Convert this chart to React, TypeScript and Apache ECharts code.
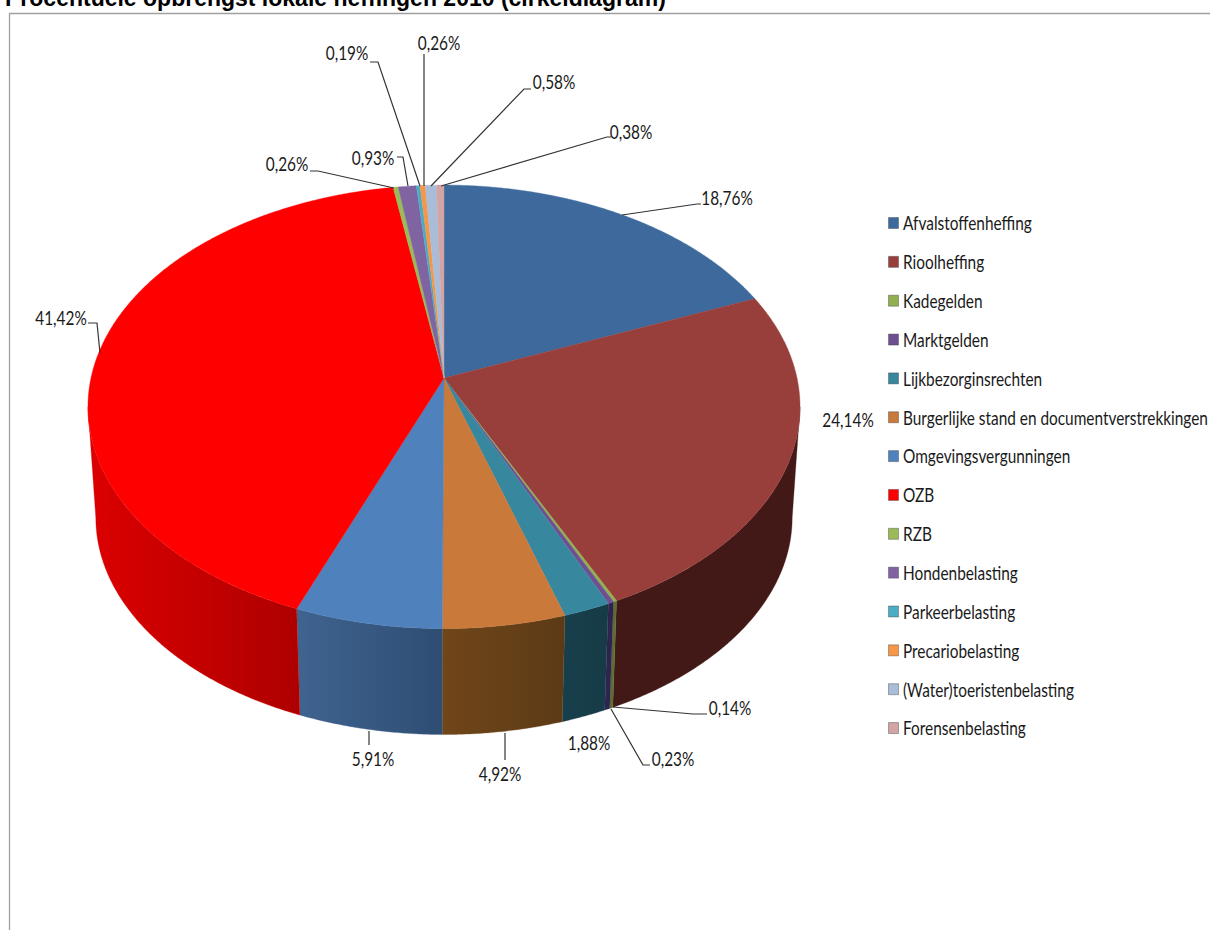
import React, { useEffect, useRef } from "react";
import * as echarts from "echarts";

const categories = [
  "Afvalstoffenheffing", "Rioolheffing", "Kadegelden", "Marktgelden", "Lijkbezorginsrechten",
  "Burgerlijke stand en documentverstrekkingen", "Omgevingsvergunningen", "OZB", "RZB",
  "Hondenbelasting", "Parkeerbelasting", "Precariobelasting", "(Water)toeristenbelasting", "Forensenbelasting",
];
const shares = [18.76, 24.14, 0.14, 0.23, 1.88, 4.92, 5.91, 41.42, 0.26, 0.93, 0.19, 0.26, 0.58, 0.38];
const shareLabels = ["18,76%", "24,14%", "0,14%", "0,23%", "1,88%", "4,92%", "5,91%", "41,42%", "0,26%", "0,93%", "0,19%", "0,26%", "0,58%", "0,38%"];

const topColors = ["#3e699d", "#983f3c", "#90b050", "#6f4f92", "#37889f", "#c9793a", "#4f81bd", "#ff0000", "#9bbb59", "#8064a2", "#4bacc6", "#f79646", "#a9bdd9", "#d3a4a4"];
const wallColors: [string, string][] = [
  ["#2c4a70", "#2c4a70"], ["#421916", "#421916"], ["#5c6e30", "#5c6e30"], ["#2f2350", "#2f2350"],
  ["#173f4b", "#163b47"], ["#704619", "#5c3a16"], ["#3f6490", "#2e4d73"], ["#dc0000", "#ae0000"],
  ["#5c6e30", "#5c6e30"], ["#3f3060", "#3f3060"], ["#1f5a6a", "#1f5a6a"], ["#8a5020", "#8a5020"],
  ["#5a6a80", "#5a6a80"], ["#7a5a5a", "#7a5a5a"],
];
// label centre, then leader polyline, per slice
const labelCentres: [number, number][] = [
  [727, 197], [848, 419], [730, 707], [673, 758], [589, 742], [500, 773], [373, 758],
  [61, 317], [287, 163], [373, 157], [347, 52], [439, 42], [554, 81], [631, 131],
];
const leaderLines: [number, number][][] = [
  [[622, 215], [697, 204], [701, 204]], [],
  [[613, 707], [693, 714], [707, 714]], [[611, 709], [643, 765], [650, 765]], [],
  [[505, 733], [505, 760]], [[369, 731], [369, 745]],
  [[100, 353], [97, 323], [88, 323]], [[394, 188], [318, 171], [310, 171]],
  [[408, 186], [403, 157], [397, 157]], [[420, 186], [378, 62], [370, 62]],
  [[424, 186], [424, 54]], [[431, 186], [524, 89], [531, 89]], [[441, 186], [607, 137], [611, 137]],
];

const FONT = "Lato, 'Liberation Sans', sans-serif";
const TEXT_SIZE = 20, TEXT_SQUEEZE = 0.77;
const CX = 444, CY = 378, K = 353, M = 218, P = 0.13;
const WALL_SCALE = 0.978, WALL_SHIFT = 119.8;
const WALL_LEFT = Math.acos(-P), WALL_RIGHT = 2 * Math.PI - Math.acos(-P);
const LEGEND_X = 888, LEGEND_Y = 222.5, LEGEND_STEP = 38.85;

const rim = (t: number): [number, number] => {
  const d = 1 + P * Math.cos(t);
  return [CX + (K * Math.sin(t)) / d, CY - (M * Math.cos(t)) / d];
};
const floor = ([x, y]: [number, number]): [number, number] => [CX + (x - CX) * WALL_SCALE, y * WALL_SCALE + WALL_SHIFT];
const total = shares.reduce((a, b) => a + b, 0);
const sweep = (i: number): [number, number] => {
  const before = shares.slice(0, i).reduce((a, b) => a + b, 0);
  return [(before / total) * 2 * Math.PI, ((before + shares[i]) / total) * 2 * Math.PI];
};
const arc = (a: number, b: number) => {
  const n = Math.max(2, Math.ceil((b - a) / 0.006));
  return Array.from({ length: n + 1 }, (_, j) => rim(a + ((b - a) * j) / n));
};

export default function App() {
  const ref = useRef<HTMLDivElement>(null);
  useEffect(() => {
    const chart = echarts.init(ref.current!, undefined, { renderer: "svg" });
    const base = { type: "custom", coordinateSystem: "none", silent: true, data: shares };
    const topSeries = {
      ...base, name: "taart", z: 3,
      renderItem: (params: any) => {
        const i = params.dataIndex;
        const [a, b] = sweep(i);
        return {
          type: "polygon",
          shape: { points: [[CX, CY], ...arc(a, b)] },
          style: { fill: topColors[i], stroke: topColors[i], lineWidth: 0.4 },
        };
      },
    };
    const wallSeries = {
      ...base, name: "wanden", z: 2,
      renderItem: (params: any) => {
        const i = params.dataIndex;
        const [s, e] = sweep(i);
        const a = Math.max(s, WALL_LEFT), b = Math.min(e, WALL_RIGHT);
        if (b <= a) return { type: "group", children: [] };
        const upper = arc(a, b);
        const lower = upper.map(floor).reverse();
        const xs = upper.map((p) => p[0]);
        const x0 = Math.min(...xs), x1 = Math.max(...xs);
        const fill = new echarts.graphic.LinearGradient(x0, 0, x1, 0, [
          { offset: 0, color: wallColors[i][0] },
          { offset: 1, color: wallColors[i][1] },
        ], true);
        return {
          type: "polygon",
          shape: { points: [...upper, ...lower] },
          style: { fill, stroke: wallColors[i][0], lineWidth: 0.3 },
        };
      },
    };
    const labelSeries = {
      ...base, name: "labels", z: 4,
      renderItem: (params: any) => {
        const i = params.dataIndex;
        const [x, y] = labelCentres[i];
        const children: any[] = [{
          type: "text", x, y, scaleX: TEXT_SQUEEZE,
          style: { text: shareLabels[i], x: 0, y: 0, align: "center", verticalAlign: "middle", fontFamily: FONT, fontSize: TEXT_SIZE, fill: "#1a1a1a" },
        }];
        if (leaderLines[i].length) {
          children.push({
            type: "polyline",
            shape: { points: leaderLines[i] },
            style: { fill: "none", stroke: "#333333", lineWidth: 1.2 },
          });
        }
        return { type: "group", children };
      },
    };
    const legendSeries = {
      ...base, name: "legenda", z: 4,
      renderItem: (params: any) => {
        const i = params.dataIndex;
        const y = LEGEND_Y + LEGEND_STEP * i;
        return {
          type: "group",
          children: [
            {
              type: "rect",
              shape: { x: LEGEND_X + 0.5, y: y - 5, width: 10, height: 11 },
              style: { fill: topColors[i], stroke: "rgba(60,60,60,0.4)", lineWidth: 1 },
            },
            {
              type: "text", x: LEGEND_X + 15, y, scaleX: TEXT_SQUEEZE,
              style: { text: categories[i], x: 0, y: 0, align: "left", verticalAlign: "middle", fontFamily: FONT, fontSize: TEXT_SIZE, fill: "#1a1a1a" },
            },
          ],
        };
      },
    };
    chart.setOption({
      animation: false,
      backgroundColor: "#ffffff",
      title: {
        text: "Procentuele opbrengst lokale heffingen 2010 (cirkeldiagram)",
        left: 5, top: -14, padding: 0,
        textStyle: { fontFamily: "'Liberation Sans', Arial, sans-serif", fontWeight: "bold", fontSize: 23, color: "#000000" },
      },
      graphic: [
        { type: "line", silent: true, shape: { x1: 9.5, y1: 13, x2: 9.5, y2: 930 }, style: { stroke: "#a0a0a0", lineWidth: 1.3 } },
        { type: "line", silent: true, shape: { x1: 9, y1: 13.5, x2: 1210, y2: 13.5 }, style: { stroke: "#a0a0a0", lineWidth: 1.5 } },
      ],
      series: [wallSeries, topSeries, labelSeries, legendSeries],
    });
    return () => chart.dispose();
  }, []);
  return <div ref={ref} style={{ position: "absolute", left: 0, top: 0, width: 1210, height: 930 }} />;
}
